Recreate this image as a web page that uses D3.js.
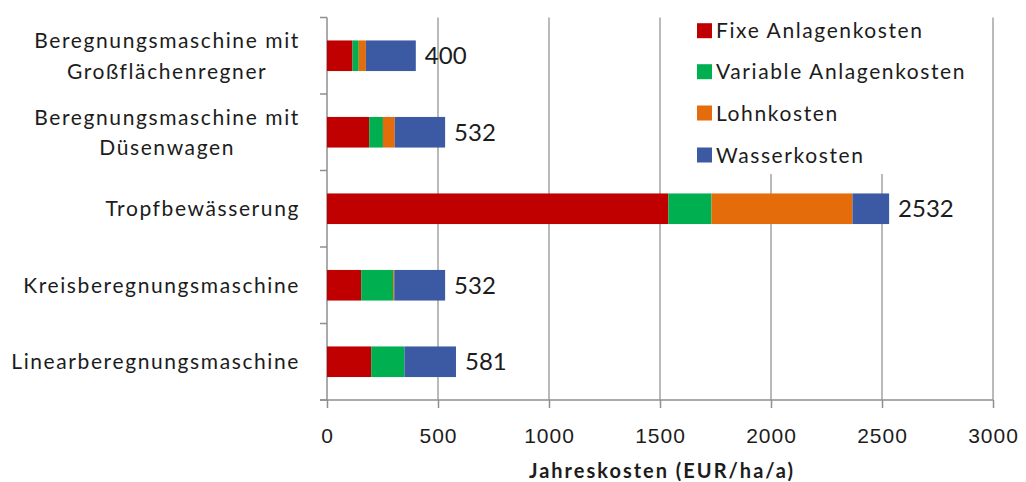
<!DOCTYPE html>
<html lang="de">
<head>
<meta charset="utf-8">
<title>Jahreskosten der Bewässerungsverfahren</title>
<script src="https://cdn.jsdelivr.net/npm/d3@7/dist/d3.min.js"></script>
<style>
  html, body { margin: 0; padding: 0; background: #fff; }
  svg { display: block; font-family: Lato, "Open Sans", sans-serif; }
</style>
</head>
<body>
<svg id="chart" width="1026" height="482"></svg>
<script>
// Verfahren (Kategorien), jede Zeile ein Umbruch im Achsenlabel
const categories = [
  ["Beregnungsmaschine mit", "Großflächenregner"],
  ["Beregnungsmaschine mit", "Düsenwagen"],
  ["Tropfbewässerung"],
  ["Kreisberegnungsmaschine"],
  ["Linearberegnungsmaschine"]
];

// Kostenanteile in EUR/ha/a
const fixeAnlagenkosten     = [115, 190, 1538, 154, 199];
const variableAnlagenkosten = [28, 62, 194, 144, 150];
const lohnkosten            = [32, 53, 635, 5, 0];
const wasserkosten          = [225, 227, 165, 229, 232];

const seriesNames  = ["Fixe Anlagenkosten", "Variable Anlagenkosten", "Lohnkosten", "Wasserkosten"];
const seriesColors = ["#c00000", "#00b050", "#e46c0a", "#3c59a3"];

const xTicks = [0, 500, 1000, 1500, 2000, 2500, 3000];
const xTitle = "Jahreskosten (EUR/ha/a)";

// ---- Tabelle für den Stapel ----
const keys = ["fixe", "variable", "lohn", "wasser"];
const rows = categories.map((c, i) => ({
  id: i,
  lines: c,
  fixe: fixeAnlagenkosten[i],
  variable: variableAnlagenkosten[i],
  lohn: lohnkosten[i],
  wasser: wasserkosten[i]
}));
rows.forEach(r => { r.total = keys.reduce((s, k) => s + r[k], 0); });

const svg = d3.select("#chart");
const plot = { left: 327, right: 993, top: 17.5, bottom: 400 };
const textColor = "#1c1c1c";
const gridColor = "#a3a3a3";
const axisColor = "#8f8f8f";

const x = d3.scaleLinear().domain([0, 3000]).range([plot.left, plot.right]);
const y = d3.scaleBand()
  .domain(rows.map(r => r.id))
  .range([plot.top, plot.bottom])
  .paddingInner(0.6)
  .paddingOuter(0.3);
const yCells = d3.scaleBand()
  .domain(rows.map(r => r.id))
  .range([plot.top, plot.bottom])
  .padding(0);

// vertikale Gitterlinien
svg.append("g")
  .selectAll("line")
  .data(xTicks.filter(t => t > 0))
  .join("line")
  .attr("x1", d => x(d)).attr("x2", d => x(d))
  .attr("y1", plot.top).attr("y2", plot.bottom)
  .attr("stroke", gridColor)
  .attr("stroke-width", 1.5);

// x-Achse
const xAxis = svg.append("g")
  .attr("transform", `translate(0,${plot.bottom})`)
  .call(d3.axisBottom(x)
    .tickValues(xTicks)
    .tickFormat(d3.format("d"))
    .tickSize(8).tickSizeOuter(0).tickPadding(0));
xAxis.select(".domain").remove();
xAxis.selectAll(".tick line").attr("stroke", axisColor).attr("stroke-width", 1.5);
xAxis.selectAll(".tick text")
  .attr("y", 43).attr("dy", null)
  .attr("fill", textColor)
  .style("font-size", "21px")
  .style("letter-spacing", "1px");
svg.append("line")
  .attr("x1", plot.left - 7).attr("x2", plot.right)
  .attr("y1", plot.bottom).attr("y2", plot.bottom)
  .attr("stroke", axisColor).attr("stroke-width", 1.5);

// y-Achse mit Trennstrichen zwischen den Kategorien
const boundaries = rows.map(r => yCells(r.id)).concat([plot.bottom]);
svg.append("g")
  .selectAll("line")
  .data(boundaries)
  .join("line")
  .attr("x1", plot.left - 7).attr("x2", plot.left)
  .attr("y1", d => d).attr("y2", d => d)
  .attr("stroke", axisColor).attr("stroke-width", 1.5);
svg.append("line")
  .attr("x1", plot.left).attr("x2", plot.left)
  .attr("y1", plot.top).attr("y2", plot.bottom)
  .attr("stroke", axisColor).attr("stroke-width", 1.5);

// Kategorienbeschriftung (mehrzeilig, zentriert, rechtsbündiger Block)
const labelRight = 300;
const catLabels = svg.append("g")
  .selectAll("text")
  .data(rows)
  .join("text")
  .attr("fill", textColor)
  .style("font-size", "21px")
  .style("letter-spacing", "1.6px")
  .attr("text-anchor", "middle");
catLabels.each(function (r) {
  const t = d3.select(this);
  const cy = y(r.id) + y.bandwidth() / 2;
  const lineGap = 30.5;
  // Blockbreite aus der längsten Zeile
  const widths = r.lines.map(l => {
    const tmp = svg.append("text").style("font-size", "21px").style("letter-spacing", "1.6px").text(l);
    const w = tmp.node().getComputedTextLength();
    tmp.remove();
    return w;
  });
  const blockW = d3.max(widths);
  const cx = labelRight - blockW / 2;
  r.lines.forEach((l, j) => {
    const off = (j - (r.lines.length - 1) / 2) * lineGap;
    t.append("tspan")
      .attr("x", cx)
      .attr("y", cy + off + 7.5)
      .text(l);
  });
});

// gestapelte Balken
const stack = d3.stack().keys(keys)(rows);
svg.append("g")
  .selectAll("g")
  .data(stack)
  .join("g")
  .attr("fill", (d, i) => seriesColors[i])
  .selectAll("rect")
  .data(d => d)
  .join("rect")
  .attr("x", d => x(d[0]))
  .attr("width", d => Math.max(0, x(d[1]) - x(d[0])))
  .attr("y", d => y(d.data.id))
  .attr("height", y.bandwidth());

// Summen rechts neben den Balken
svg.append("g")
  .selectAll("text")
  .data(rows)
  .join("text")
  .attr("x", d => x(d.total) + 9)
  .attr("y", d => y(d.id) + y.bandwidth() / 2 + 8.5)
  .attr("fill", textColor)
  .style("font-size", "24px")
  .text(d => d.total);

// Achsentitel
svg.append("text")
  .attr("x", 662)
  .attr("y", 478)
  .attr("text-anchor", "middle")
  .attr("fill", textColor)
  .style("font-size", "20px")
  .style("font-weight", "bold")
  .style("letter-spacing", "2px")
  .text(xTitle);

// Legende mit weißem Hintergrund
const legend = svg.append("g");
legend.append("rect")
  .attr("x", 688).attr("y", 10)
  .attr("width", 290).attr("height", 164)
  .attr("fill", "#fff");
const legendRows = [30.7, 71.7, 113, 155];
const li = legend.selectAll("g.item")
  .data(seriesNames)
  .join("g")
  .attr("class", "item")
  .attr("transform", (d, i) => `translate(697,${legendRows[i]})`);
li.append("rect")
  .attr("x", 0).attr("y", -7.5)
  .attr("width", 15).attr("height", 15)
  .attr("fill", (d, i) => seriesColors[i]);
li.append("text")
  .attr("x", 19).attr("y", 7.5)
  .attr("fill", textColor)
  .style("font-size", "21px")
  .style("letter-spacing", "1.6px")
  .text(d => d);
</script>
</body>
</html>
